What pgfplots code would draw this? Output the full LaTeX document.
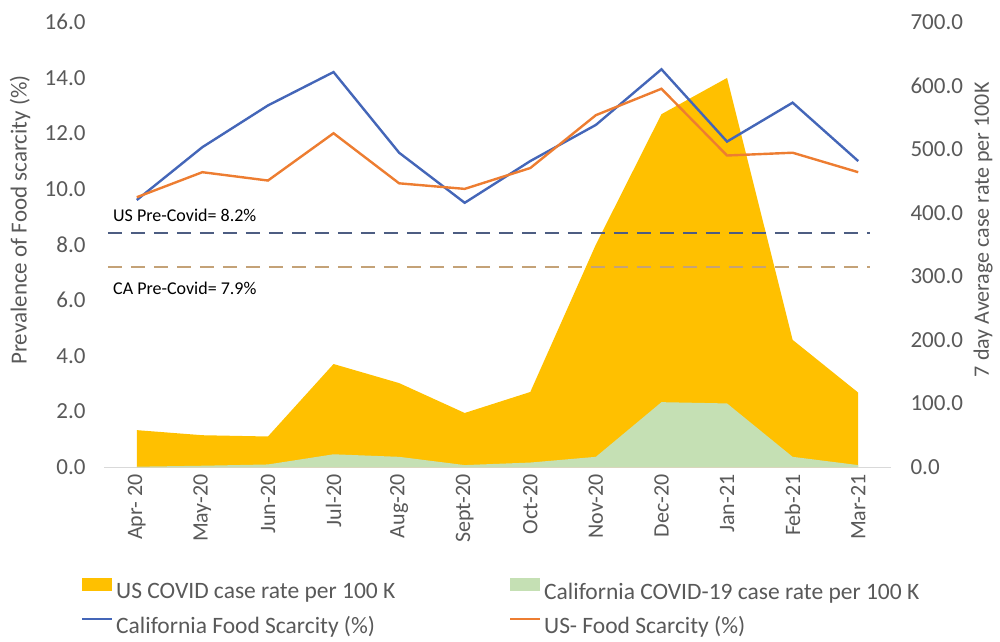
\documentclass[border=0pt]{standalone}
\usepackage{pgfplots}
\usepackage{pgfplotstable}
\pgfplotsset{compat=1.18}
\usepackage{fontspec}
\setmainfont{Carlito}
\definecolor{usarea}{HTML}{FFC000}
\definecolor{caarea}{HTML}{C5E0B4}
\definecolor{caline}{HTML}{4466B8}
\definecolor{usline}{HTML}{ED7D31}
\definecolor{dblue}{HTML}{4D5D82}
\definecolor{dtan}{HTML}{C4A277}
\definecolor{txt}{HTML}{595959}

\pgfplotstableread{
x us ca
0 58 0.5
1 50 2
2 48 4
3 162 20
4 132 16
5 85 3
6 118 7
7 350 16
8 555 102
9 612 100
10 200 16
11 117 3
}\covid

\pgfplotstableread{
x cal usf
0 9.6 9.7
1 11.5 10.6
2 13.0 10.3
3 14.2 12.0
4 11.3 10.2
5 9.5 10.0
6 11.0 10.75
7 12.3 12.65
8 14.3 13.6
9 11.7 11.2
10 13.1 11.3
11 11.0 10.6
}\food

\pgfplotstableread{
x us ca
-0.44 8.43 7.2
11.18 8.43 7.2
}\precovid

\begin{document}
\begin{tikzpicture}
\path[use as bounding box] (-104pt,-174pt) rectangle (896pt,467pt);
\pgfplotsset{
  base/.style={
    scale only axis, width=787pt, height=445pt,
    xmin=-0.5, xmax=11.5,
    at={(0pt,0pt)}, anchor=south west,
    major tick length=0pt,
    tick label style={font=\fontsize{23}{26}\selectfont, text=txt},
    label style={font=\fontsize{23}{26}\selectfont, text=txt},
    /pgf/number format/fixed,
    /pgf/number format/fixed zerofill,
    /pgf/number format/precision=1,
    /pgf/number format/assume math mode=true,
    clip=false,
  }
}
% right axis with the areas
\begin{axis}[base,
  ymin=0, ymax=700, ytick={0,100,...,700},
  axis y line*=right, axis x line*=bottom,
  y axis line style={draw=none},
  x axis line style={draw=black!15, line width=1pt},
  xtick={0,...,11},
  xticklabels={Apr- 20,May-20,Jun-20,Jul-20,Aug-20,Sept-20,Oct-20,Nov-20,Dec-20,Jan-21,Feb-21,Mar-21},
  xticklabel style={rotate=90, anchor=east, font=\fontsize{22}{24}\selectfont, xshift=-4pt},
  yticklabel style={anchor=west, xshift=16pt},
  ylabel={7 day Average case rate per 100K},
  ylabel style={at={(axis description cs:1.117,0.533)}, anchor=center, font=\fontsize{22}{24}\selectfont},
]
\addplot[fill=usarea, draw=none] table[x=x, y=us]{\covid} \closedcycle;
\addplot[fill=caarea, draw=none] table[x=x, y=ca]{\covid} \closedcycle;
\end{axis}
% left axis with the lines
\begin{axis}[base,
  ymin=0, ymax=16, ytick={0,2,...,16},
  axis y line*=left, hide x axis,
  y axis line style={draw=none},
  yticklabel style={anchor=east, xshift=-15pt},
  ylabel={Prevalence of Food scarcity (\%)},
  ylabel style={at={(axis description cs:-0.1067,0.555)}, anchor=center},
  legend columns=2,
  legend cell align=left,
  legend style={draw=none, fill=none, inner sep=0pt,
    at={(axis description cs:-0.0292,-0.25)}, anchor=north west,
    column sep=0pt, row sep=16pt,
    nodes={inner sep=0pt, font=\fontsize{23.5}{26}\selectfont, text=txt}},
  legend image code/.code={\draw[line width=2pt] (0pt,7pt) -- (30pt,7pt);},
]
\addplot[dblue, line width=2pt, dash pattern=on 14pt off 9pt, forget plot] table[x=x, y=us]{\precovid};
\addplot[dtan, line width=2pt, dash pattern=on 14pt off 9pt, forget plot] table[x=x, y=ca]{\precovid};
\node[anchor=west, font=\fontsize{18}{20}\selectfont, inner sep=0pt] at (axis cs:-0.363,9.06) {US Pre-Covid= 8.2\%};
\node[anchor=west, font=\fontsize{18}{20}\selectfont, inner sep=0pt] at (axis cs:-0.363,6.44) {CA Pre-Covid= 7.9\%};
\addlegendimage{legend image code/.code={\fill[usarea] (0pt,1pt) rectangle (29pt,13pt);}}
\addlegendentry{\makebox[396pt][l]{\hspace{3pt}US COVID case rate per 100 K}}
\addlegendimage{legend image code/.code={\fill[caarea] (0pt,1pt) rectangle (29pt,13pt);}}
\addlegendentry{\hspace{3pt}California COVID-19 case rate per 100 K}
\addplot[caline, line width=2.4pt] table[x=x, y=cal]{\food};
\addlegendentry{\makebox[396pt][l]{\hspace{3pt}California Food Scarcity (\%)}}
\addplot[usline, line width=2.4pt] table[x=x, y=usf]{\food};
\addlegendentry{\hspace{3pt}US- Food Scarcity (\%)}
\end{axis}
\end{tikzpicture}
\end{document}
